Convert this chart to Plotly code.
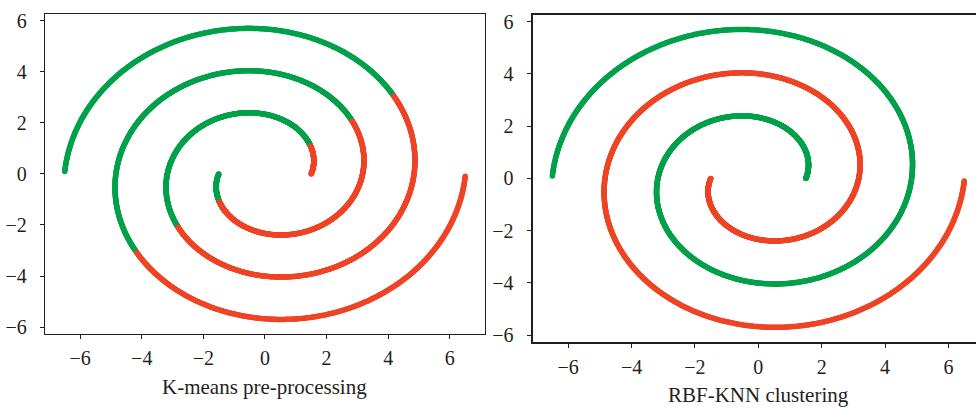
import numpy as np
import plotly.graph_objects as go

# Two-spiral dataset parameters
spiral_inner_radius = 1.5      # radius at the inner end of each arm
spiral_outer_radius = 6.5      # radius at the outer end of each arm
spiral_end_angle = 9.41        # arm sweeps ~3*pi radians (1.5 turns)
n_points = 1400                # dense dots per arm

# K-means split line (y = slope * x)
kmeans_boundary_slope = 0.74

tick_vals = [-6, -4, -2, 0, 2, 4, 6]
tick_text = ["\u22126", "\u22124", "\u22122", "0", "2", "4", "6"]

GREEN = "#00A14B"
RED = "#EE4425"
INK = "#231F20"

theta = np.linspace(0, spiral_end_angle, n_points)
r = spiral_inner_radius + (spiral_outer_radius - spiral_inner_radius) * theta / spiral_end_angle
# arm A (true class green), arm B (true class red)
ax_, ay_ = r * np.cos(theta), r * np.sin(theta)
bx_, by_ = -ax_, -ay_

all_x = np.concatenate([ax_, bx_])
all_y = np.concatenate([ay_, by_])
km_green = all_y > kmeans_boundary_slope * all_x

fig = go.Figure()
mk = lambda c: dict(color=c, size=5.5, line=dict(width=0))

# Left: K-means
fig.add_trace(go.Scatter(x=all_x[km_green], y=all_y[km_green], mode="markers",
                         marker=mk(GREEN), xaxis="x", yaxis="y", showlegend=False))
fig.add_trace(go.Scatter(x=all_x[~km_green], y=all_y[~km_green], mode="markers",
                         marker=mk(RED), xaxis="x", yaxis="y", showlegend=False))
# Right: RBF-KNN
fig.add_trace(go.Scatter(x=ax_, y=ay_, mode="markers", marker=mk(GREEN),
                         xaxis="x2", yaxis="y2", showlegend=False))
fig.add_trace(go.Scatter(x=bx_, y=by_, mode="markers", marker=mk(RED),
                         xaxis="x2", yaxis="y2", showlegend=False))

FAMILY = "Liberation Serif"
tfont = dict(family=FAMILY, size=20, color=INK)
lfont = dict(family=FAMILY, size=21, color=INK)

def axis(domain, rng, lw, mirror, standoff):
    return dict(domain=domain, range=rng, tickvals=tick_vals, ticktext=tick_text,
                ticks="outside", ticklen=4, tickwidth=1.2, tickcolor=INK,
                showline=True, linecolor=INK, linewidth=lw, mirror=mirror,
                showgrid=False, zeroline=False, tickfont=tfont, fixedrange=True,
                ticklabelstandoff=standoff)

fig.update_layout(
    width=976, height=412,
    margin=dict(l=0, r=0, t=0, b=0),
    font=dict(family=FAMILY, color=INK),
    paper_bgcolor="white", plot_bgcolor="white",
    xaxis=axis([0.0461, 0.4969], [-7.14, 7.14], 1.3, True, 2) | dict(anchor="y"),
    yaxis=axis([0.1828, 0.977], [-6.25, 6.25], 1.3, True, 9) | dict(anchor="x"),
    xaxis2=axis([0.5458, 1.0], [-7.12, 6.87], 2.3, True, 2) | dict(anchor="y2"),
    yaxis2=axis([0.161, 0.9757], [-6.27, 6.26], 2.3, False, 9) | dict(anchor="x2"),
    annotations=[
        dict(text="K-means pre-processing", xref="x domain", yref="paper",
             x=0.5, y=1 - 391 / 412, xanchor="center", yanchor="middle",
             showarrow=False, font=lfont),
        dict(text="RBF-KNN clustering", xref="paper", yref="paper",
             x=758 / 976, y=1 - 400 / 412, xanchor="center", yanchor="middle",
             showarrow=False, font=lfont),
    ],
)

fig.write_html("out.html")
